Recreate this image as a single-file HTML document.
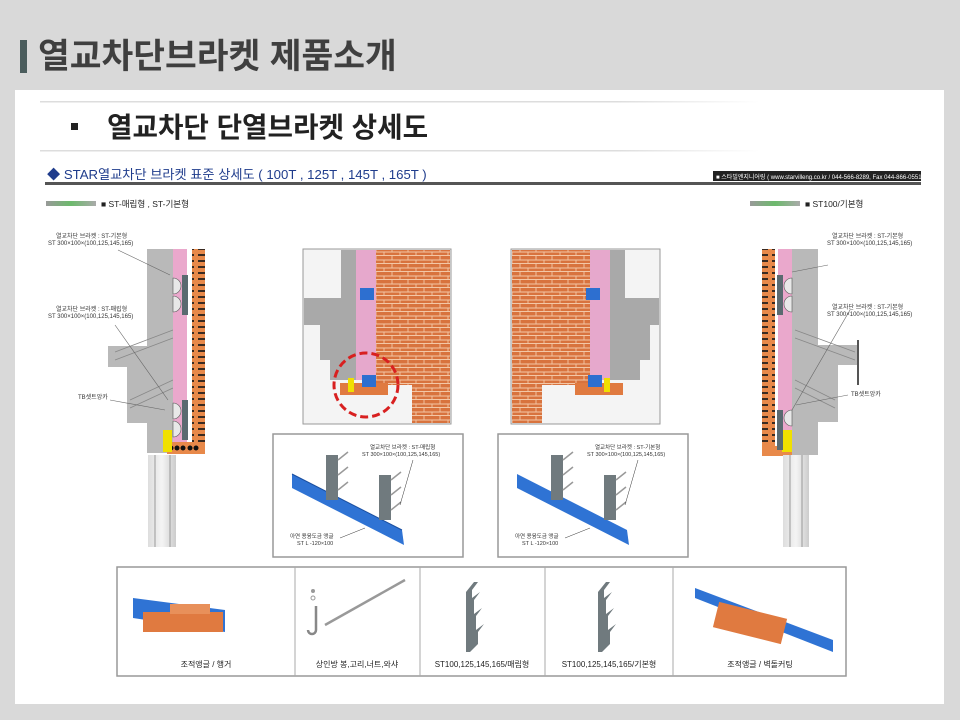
<!DOCTYPE html>
<html><head><meta charset="utf-8"><style>
html,body{margin:0;padding:0;width:960px;height:720px;overflow:hidden;background:#d9d9d9;font-family:"Liberation Sans","Noto Sans CJK KR",sans-serif}
svg text{font-family:"Liberation Sans","Noto Sans CJK KR",sans-serif}
</style></head><body>
<svg width="960" height="720" viewBox="0 0 960 720" xmlns="http://www.w3.org/2000/svg">
<defs>
<pattern id="brk" width="16" height="8" patternUnits="userSpaceOnUse">
<rect width="16" height="8" fill="#d8733e"/>
<path d="M0 7.5H16M8 0V4M0 4H16M0 4V8M16 4V8" stroke="#f3c7a6" stroke-width="0.9" fill="none"/>
</pattern>
<pattern id="brk2" width="14" height="6" patternUnits="userSpaceOnUse">
<rect width="14" height="6" fill="#e8894a"/>
<rect x="2" y="2" width="10" height="2" fill="#3a2a20"/>
</pattern>
<linearGradient id="ln" x1="0" x2="1"><stop offset="0" stop-color="#ddd"/><stop offset="0.8" stop-color="#ddd"/><stop offset="1" stop-color="#fff"/></linearGradient>
<linearGradient id="gb" x1="0" x2="1"><stop offset="0" stop-color="#999"/><stop offset="0.5" stop-color="#6cba6c"/><stop offset="1" stop-color="#aaa"/></linearGradient>
<linearGradient id="gw" x1="0" x2="1"><stop offset="0" stop-color="#ddd"/><stop offset="0.5" stop-color="#f4f4f4"/><stop offset="1" stop-color="#ccc"/></linearGradient>
</defs>
<!-- header -->
<rect x="20" y="40" width="7" height="33" fill="#4b5d5d"/>
<text x="38" y="68" font-size="34.5" font-weight="bold" fill="#3f3f3f">열교차단브라켓 제품소개</text>
<rect x="15" y="90" width="929" height="614" fill="#fff"/>
<rect x="40" y="101" width="720" height="1.5" fill="url(#ln)"/>
<rect x="40" y="150" width="720" height="1.5" fill="url(#ln)"/>
<rect x="71" y="123" width="7" height="7" fill="#222"/>
<text x="107" y="137" font-size="27.7" font-weight="bold" fill="#222">열교차단 단열브라켓 상세도</text>
<text x="47" y="179" font-size="13.2" fill="#1f3c8c">◆ STAR열교차단 브라켓 표준 상세도 ( 100T , 125T , 145T , 165T )</text>
<rect x="45" y="182" width="876" height="3" fill="#555"/>
<rect x="713" y="171" width="208" height="10" fill="#222"/>
<text x="716" y="179" font-size="6" fill="#fff">■ 스타빌엔지니어링 ( www.starvilleng.co.kr / 044-566-8289, Fax 044-866-0551)</text>
<rect x="46" y="201" width="50" height="5" fill="url(#gb)"/>
<text x="101" y="207" font-size="8.5" fill="#222">■ ST-매립형 , ST-기본형</text>
<rect x="750" y="201" width="50" height="5" fill="url(#gb)"/>
<text x="805" y="207" font-size="8.5" fill="#222">■ ST100/기본형</text>

<!-- left drawing -->
<g>
<path d="M147 249H173V453H147V423H127V367H108V346H147Z" fill="#b9b9b9"/>
<path d="M115 352L173 330M115 360L173 338M130 400L173 380M130 408L173 388" stroke="#888" stroke-width="0.8"/>
<rect x="173" y="249" width="14" height="200" fill="#eaa8cc"/>
<rect x="192" y="249" width="13" height="203" fill="url(#brk2)"/>
<rect x="167" y="442" width="38" height="12" fill="#e8894a"/>
<g fill="#111"><circle cx="171" cy="448" r="2.5"/><circle cx="177" cy="448" r="2.5"/><circle cx="183" cy="448" r="2.5"/><circle cx="190" cy="448" r="2.5"/><circle cx="196" cy="448" r="2.5"/></g>
<rect x="163" y="430" width="9" height="22" fill="#f0e000"/>
<g fill="#5a6a70"><rect x="182" y="275" width="6" height="40"/><rect x="182" y="400" width="6" height="40"/></g>
<g fill="#e8e8e8" stroke="#555" stroke-width="0.6"><path d="M173 278a8 8 0 0 1 0 16z"/><path d="M173 296a8 8 0 0 1 0 16z"/><path d="M173 403a8 8 0 0 1 0 16z"/><path d="M173 421a8 8 0 0 1 0 16z"/></g>
<rect x="148" y="455" width="28" height="92" fill="url(#gw)"/>
<path d="M155 455V547M170 455V547" stroke="#999"/>
<path d="M118 250L170 275M115 325L168 400M110 400L165 410" stroke="#666" stroke-width="0.6"/>
<g font-size="6" fill="#333"><text x="56" y="238">열교차단 브라켓 : ST-기본형</text><text x="48" y="245">ST 300×100×(100,125,145,165)</text>
<text x="56" y="311">열교차단 브라켓 : ST-매립형</text><text x="48" y="318">ST 300×100×(100,125,145,165)</text>
<text x="78" y="399">TB셋트앙카</text></g>
</g>

<!-- right drawing -->
<g>
<path d="M792 249H818V345H858V365H838V422H818V455H792Z" fill="#b9b9b9"/>
<path d="M795 330L855 352M795 338L855 360M795 380L835 400M795 388L835 408" stroke="#888" stroke-width="0.8"/>
<rect x="857" y="340" width="2" height="45" fill="#555"/>
<rect x="778" y="249" width="14" height="200" fill="#eaa8cc"/>
<rect x="762" y="249" width="13" height="203" fill="url(#brk2)"/>
<rect x="762" y="446" width="30" height="10" fill="#e8894a"/>
<rect x="782" y="430" width="10" height="22" fill="#f0e000"/>
<g fill="#5a6a70"><rect x="777" y="275" width="6" height="40"/><rect x="777" y="410" width="6" height="40"/></g>
<g fill="#e8e8e8" stroke="#555" stroke-width="0.6"><path d="M792 278a8 8 0 0 0 0 16z"/><path d="M792 296a8 8 0 0 0 0 16z"/><path d="M792 410a8 8 0 0 0 0 16z"/></g>
<rect x="783" y="455" width="26" height="92" fill="url(#gw)"/>
<path d="M790 455V547M802 455V547" stroke="#999"/>
<path d="M792 272L828 265M792 410L850 310M796 405L848 395" stroke="#666" stroke-width="0.6"/>
<g font-size="6" fill="#333"><text x="832" y="238">열교차단 브라켓 : ST-기본형</text><text x="827" y="245">ST 300×100×(100,125,145,165)</text>
<text x="832" y="309">열교차단 브라켓 : ST-기본형</text><text x="827" y="316">ST 300×100×(100,125,145,165)</text>
<text x="851" y="396">TB셋트앙카</text></g>
</g>

<!-- photo boxes -->
<g>
<rect x="303" y="249" width="148" height="175" fill="#f4f4f4" stroke="#999"/>
<path d="M304 298H341V250H356V380H330V360H320V325H304Z" fill="#a9a9a9"/>
<rect x="356" y="250" width="20" height="130" fill="#e6a8cc"/>
<rect x="376" y="250" width="74" height="135" fill="url(#brk)"/>
<rect x="412" y="385" width="38" height="38" fill="url(#brk)"/>
<rect x="340" y="383" width="48" height="12" fill="#e07a40"/>
<rect x="360" y="288" width="14" height="12" fill="#2d6fd0"/><rect x="362" y="375" width="14" height="12" fill="#2d6fd0"/>
<rect x="348" y="378" width="6" height="14" fill="#f0e000"/>
<circle cx="366" cy="385" r="32" fill="none" stroke="#d82020" stroke-width="3" stroke-dasharray="8 4"/>
</g>
<g>
<rect x="511" y="249" width="149" height="175" fill="#f4f4f4" stroke="#999"/>
<path d="M659 298H625V250H610V380H640V360H650V325H659Z" fill="#a9a9a9"/>
<rect x="590" y="250" width="20" height="130" fill="#e6a8cc"/>
<rect x="512" y="250" width="78" height="135" fill="url(#brk)"/>
<rect x="512" y="385" width="30" height="38" fill="url(#brk)"/>
<rect x="575" y="383" width="48" height="12" fill="#e07a40"/>
<rect x="586" y="288" width="14" height="12" fill="#2d6fd0"/><rect x="588" y="375" width="14" height="12" fill="#2d6fd0"/>
<rect x="604" y="378" width="6" height="14" fill="#f0e000"/>
</g>

<!-- bracket boxes -->
<g>
<rect x="273" y="434" width="190" height="123" fill="#fff" stroke="#999" stroke-width="1.5"/>
<path d="M292 474L402 530L404 545L292 488Z" fill="#2f73d4"/>
<path d="M292 474L402 530" stroke="#1b4fa0"/>
<rect x="326" y="455" width="12" height="45" fill="#707a7e"/><rect x="379" y="475" width="12" height="45" fill="#707a7e"/>
<path d="M338 460l10-8M338 475l10-8M338 490l10-8M391 480l10-8M391 495l10-8M391 510l10-8" stroke="#999" stroke-width="1.5"/>
<g font-size="5.5" fill="#333"><text x="370" y="449">열교차단 브라켓 : ST-매립형</text><text x="362" y="456">ST 300×100×(100,125,145,165)</text>
<text x="290" y="538">아연 용융도금 앵글</text><text x="297" y="545">ST L -120×100</text></g>
<path d="M413 460L400 505M340 538L365 528" stroke="#333" stroke-width="0.5"/>
</g>
<g>
<rect x="498" y="434" width="190" height="123" fill="#fff" stroke="#999" stroke-width="1.5"/>
<path d="M517 474L627 530L629 545L517 488Z" fill="#2f73d4"/>
<rect x="551" y="455" width="12" height="45" fill="#707a7e"/><rect x="604" y="475" width="12" height="45" fill="#707a7e"/>
<path d="M563 460l10-8M563 475l10-8M563 490l10-8M616 480l10-8M616 495l10-8M616 510l10-8" stroke="#999" stroke-width="1.5"/>
<g font-size="5.5" fill="#333"><text x="595" y="449">열교차단 브라켓 : ST-기본형</text><text x="587" y="456">ST 300×100×(100,125,145,165)</text>
<text x="515" y="538">아연 용융도금 앵글</text><text x="522" y="545">ST L -120×100</text></g>
<path d="M638 460L625 505M565 538L590 528" stroke="#333" stroke-width="0.5"/>
</g>

<!-- bottom table -->
<rect x="117" y="567" width="729" height="109" fill="#fff" stroke="#999" stroke-width="1.5"/>
<path d="M295 567V676M420 567V676M545 567V676M673 567V676" stroke="#aaa"/>
<g>
<path d="M133 598L225 610L225 632L133 618Z" fill="#2f73d4"/>
<rect x="143" y="612" width="80" height="20" fill="#e07a40"/><rect x="170" y="604" width="40" height="10" fill="#e8905a"/>
<circle cx="313" cy="591" r="2" fill="#999"/><circle cx="313" cy="598" r="2" fill="none" stroke="#999"/>
<path d="M316 606V630a4 4 0 0 1-8 0" fill="none" stroke="#888" stroke-width="2.5"/>
<path d="M325 625L405 580" stroke="#999" stroke-width="2.5"/>
<path d="M466 592l8-10h4l-6 8v8l8-6-6 8v14l8-6-6 8v14l8-6-6 8v12l-8 8h-4v-60z" fill="#707a7e"/>
<path d="M598 592l8-10h4l-6 8v8l8-6-6 8v14l8-6-6 8v14l8-6-6 8v12l-8 8h-4v-60z" fill="#707a7e"/>
<path d="M695 588L833 640V652L695 598Z" fill="#2f73d4"/>
<rect x="715" y="610" width="70" height="26" fill="#e07a40" transform="rotate(14 750 623)"/>
</g>
<g font-size="8" fill="#222" text-anchor="middle">
<text x="206" y="667">조적앵글 / 행거</text>
<text x="357" y="667">상인방 봉,고리,너트,와샤</text>
<text x="482" y="667">ST100,125,145,165/매립형</text>
<text x="609" y="667">ST100,125,145,165/기본형</text>
<text x="760" y="667">조적앵글 / 벽돌커팅</text>
</g>
</svg>
</body></html>
